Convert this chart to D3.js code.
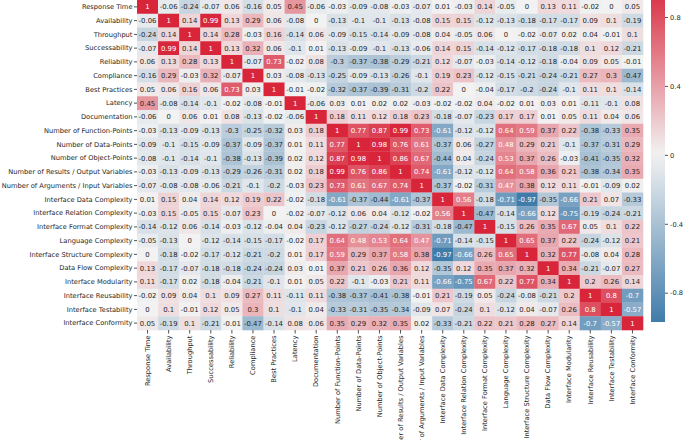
<!DOCTYPE html>
<html>
<head>
<meta charset="UTF-8">
<title>Correlation heatmap</title>
<style>
  body { margin: 0; background: #fff; }
  text { font-family: 'DejaVu Sans', sans-serif; }
</style>
</head>
<body>
<svg id="chart"></svg>
<script src="https://cdnjs.cloudflare.com/ajax/libs/d3/7.8.5/d3.min.js"></script>
<script>

// variable names (rows and columns are the same)
const variables = ["Response Time", "Availability", "Throughput", "Successability", "Reliability",
  "Compliance", "Best Practices", "Latency", "Documentation", "Number of Function-Points",
  "Number of Data-Points", "Number of Object-Points", "Number of Results / Output Variables",
  "Number of Arguments / Input Variables", "Interface Data Complexity", "Interface Relation Complexity",
  "Interface Format Complexity", "Language Complexity", "Interface Structure Complexity",
  "Data Flow Complexity", "Interface Modularity", "Interface Reusability", "Interface Testability",
  "Interface Conformity"];

// correlation values, one row per variable
const corr = [
  [1, -0.06, -0.24, -0.07, 0.06, -0.16, 0.05, 0.45, -0.06, -0.03, -0.09, -0.08, -0.03, -0.07, 0.01, -0.03, 0.14, -0.05, 0, 0.13, 0.11, -0.02, 0, 0.05],
  [-0.06, 1, 0.14, 0.99, 0.13, 0.29, 0.06, -0.08, 0, -0.13, -0.1, -0.1, -0.13, -0.08, 0.15, 0.15, -0.12, -0.13, -0.18, -0.17, -0.17, 0.09, 0.1, -0.19],
  [-0.24, 0.14, 1, 0.14, 0.28, -0.03, 0.16, -0.14, 0.06, -0.09, -0.15, -0.14, -0.09, -0.08, 0.04, -0.05, 0.06, 0, -0.02, -0.07, 0.02, 0.04, -0.01, 0.1],
  [-0.07, 0.99, 0.14, 1, 0.13, 0.32, 0.06, -0.1, 0.01, -0.13, -0.09, -0.1, -0.13, -0.06, 0.14, 0.15, -0.14, -0.12, -0.17, -0.18, -0.18, 0.1, 0.12, -0.21],
  [0.06, 0.13, 0.28, 0.13, 1, -0.07, 0.73, -0.02, 0.08, -0.3, -0.37, -0.38, -0.29, -0.21, 0.12, -0.07, -0.03, -0.14, -0.12, -0.18, -0.04, 0.09, 0.05, -0.01],
  [-0.16, 0.29, -0.03, 0.32, -0.07, 1, 0.03, -0.08, -0.13, -0.25, -0.09, -0.13, -0.26, -0.1, 0.19, 0.23, -0.12, -0.15, -0.21, -0.24, -0.21, 0.27, 0.3, -0.47],
  [0.05, 0.06, 0.16, 0.06, 0.73, 0.03, 1, -0.01, -0.02, -0.32, -0.37, -0.39, -0.31, -0.2, 0.22, 0, -0.04, -0.17, -0.2, -0.24, -0.1, 0.11, 0.1, -0.14],
  [0.45, -0.08, -0.14, -0.1, -0.02, -0.08, -0.01, 1, -0.06, 0.03, 0.01, 0.02, 0.02, -0.03, -0.02, -0.02, 0.04, -0.02, 0.01, 0.03, 0.01, -0.11, -0.1, 0.08],
  [-0.06, 0, 0.06, 0.01, 0.08, -0.13, -0.02, -0.06, 1, 0.18, 0.11, 0.12, 0.18, 0.23, -0.18, -0.07, -0.23, 0.17, 0.17, 0.01, 0.05, 0.11, 0.04, 0.06],
  [-0.03, -0.13, -0.09, -0.13, -0.3, -0.25, -0.32, 0.03, 0.18, 1, 0.77, 0.87, 0.99, 0.73, -0.61, -0.12, -0.12, 0.64, 0.59, 0.37, 0.22, -0.38, -0.33, 0.35],
  [-0.09, -0.1, -0.15, -0.09, -0.37, -0.09, -0.37, 0.01, 0.11, 0.77, 1, 0.98, 0.76, 0.61, -0.37, 0.06, -0.27, 0.48, 0.29, 0.21, -0.1, -0.37, -0.31, 0.29],
  [-0.08, -0.1, -0.14, -0.1, -0.38, -0.13, -0.39, 0.02, 0.12, 0.87, 0.98, 1, 0.86, 0.67, -0.44, 0.04, -0.24, 0.53, 0.37, 0.26, -0.03, -0.41, -0.35, 0.32],
  [-0.03, -0.13, -0.09, -0.13, -0.29, -0.26, -0.31, 0.02, 0.18, 0.99, 0.76, 0.86, 1, 0.74, -0.61, -0.12, -0.12, 0.64, 0.58, 0.36, 0.21, -0.38, -0.34, 0.35],
  [-0.07, -0.08, -0.08, -0.06, -0.21, -0.1, -0.2, -0.03, 0.23, 0.73, 0.61, 0.67, 0.74, 1, -0.37, -0.02, -0.31, 0.47, 0.38, 0.12, 0.11, -0.01, -0.09, 0.02],
  [0.01, 0.15, 0.04, 0.14, 0.12, 0.19, 0.22, -0.02, -0.18, -0.61, -0.37, -0.44, -0.61, -0.37, 1, 0.56, -0.18, -0.71, -0.97, -0.35, -0.66, 0.21, 0.07, -0.33],
  [-0.03, 0.15, -0.05, 0.15, -0.07, 0.23, 0, -0.02, -0.07, -0.12, 0.06, 0.04, -0.12, -0.02, 0.56, 1, -0.47, -0.14, -0.66, 0.12, -0.75, -0.19, -0.24, -0.21],
  [-0.14, -0.12, 0.06, -0.14, -0.03, -0.12, -0.04, 0.04, -0.23, -0.12, -0.27, -0.24, -0.12, -0.31, -0.18, -0.47, 1, -0.15, 0.26, 0.35, 0.67, 0.05, 0.1, 0.22],
  [-0.05, -0.13, 0, -0.12, -0.14, -0.15, -0.17, -0.02, 0.17, 0.64, 0.48, 0.53, 0.64, 0.47, -0.71, -0.14, -0.15, 1, 0.65, 0.37, 0.22, -0.24, -0.12, 0.21],
  [0, -0.18, -0.02, -0.17, -0.12, -0.21, -0.2, 0.01, 0.17, 0.59, 0.29, 0.37, 0.58, 0.38, -0.97, -0.66, 0.26, 0.65, 1, 0.32, 0.77, -0.08, 0.04, 0.28],
  [0.13, -0.17, -0.07, -0.18, -0.18, -0.24, -0.24, 0.03, 0.01, 0.37, 0.21, 0.26, 0.36, 0.12, -0.35, 0.12, 0.35, 0.37, 0.32, 1, 0.34, -0.21, -0.07, 0.27],
  [0.11, -0.17, 0.02, -0.18, -0.04, -0.21, -0.1, 0.01, 0.05, 0.22, -0.1, -0.03, 0.21, 0.11, -0.66, -0.75, 0.67, 0.22, 0.77, 0.34, 1, 0.2, 0.26, 0.14],
  [-0.02, 0.09, 0.04, 0.1, 0.09, 0.27, 0.11, -0.11, 0.11, -0.38, -0.37, -0.41, -0.38, -0.01, 0.21, -0.19, 0.05, -0.24, -0.08, -0.21, 0.2, 1, 0.8, -0.7],
  [0, 0.1, -0.01, 0.12, 0.05, 0.3, 0.1, -0.1, 0.04, -0.33, -0.31, -0.35, -0.34, -0.09, 0.07, -0.24, 0.1, -0.12, 0.04, -0.07, 0.26, 0.8, 1, -0.57],
  [0.05, -0.19, 0.1, -0.21, -0.01, -0.47, -0.14, 0.08, 0.06, 0.35, 0.29, 0.32, 0.35, 0.02, -0.33, -0.21, 0.22, 0.21, 0.28, 0.27, 0.14, -0.7, -0.57, 1]
];

const colorTicks = [0.8, 0.4, 0, -0.4, -0.8];

const width = 685, height = 440;
const mLeft = 137, mTop = 0, mRight = 643, mBottom = 330;

const fontSize = 6.7;

const svg = d3.select("#chart")
  .attr("width", width)
  .attr("height", height);

const x = d3.scaleBand().domain(variables).range([mLeft, mRight]);
const y = d3.scaleBand().domain(variables).range([mTop, mBottom]);

// diverging blue - light - red palette
const color = d3.scaleLinear()
  .domain([-1, 0, 1])
  .range(["#3b78a8", "#f2f2f2", "#d8253a"])
  .interpolate(d3.interpolateRgb)
  .clamp(true);

// same test seaborn uses to pick white or dark annotation text
function luminance(c) {
  const rgb = d3.rgb(c);
  const f = v => { v /= 255; return v <= 0.03928 ? v / 12.92 : Math.pow((v + 0.055) / 1.055, 2.4); };
  return 0.2126 * f(rgb.r) + 0.7152 * f(rgb.g) + 0.0722 * f(rgb.b);
}

const cells = [];
corr.forEach((row, i) => row.forEach((v, j) => cells.push({ r: variables[i], c: variables[j], v: v })));

const g = svg.append("g");

g.selectAll("rect")
  .data(cells)
  .enter()
  .append("rect")
  .attr("x", d => x(d.c))
  .attr("y", d => y(d.r))
  .attr("width", x.bandwidth() + 0.3)
  .attr("height", y.bandwidth() + 0.3)
  .attr("fill", d => color(d.v));

g.selectAll("text.annot")
  .data(cells)
  .enter()
  .append("text")
  .attr("class", "annot")
  .attr("x", d => x(d.c) + x.bandwidth() / 2)
  .attr("y", d => y(d.r) + y.bandwidth() / 2)
  .attr("dy", "0.36em")
  .attr("text-anchor", "middle")
  .style("font-size", (fontSize + 0.2) + "px")
  .style("fill", d => luminance(color(d.v)) > 0.408 ? "#262626" : "#fff")
  .text(d => String(d.v));

// axes
const yAxis = svg.append("g")
  .attr("transform", "translate(" + mLeft + ",0)")
  .call(d3.axisLeft(y).tickSize(3).tickPadding(1.5));

const xAxis = svg.append("g")
  .attr("transform", "translate(0," + mBottom + ")")
  .call(d3.axisBottom(x).tickSize(3.5));

[xAxis, yAxis].forEach(ax => {
  ax.select(".domain").remove();
  ax.selectAll("line").attr("stroke", "#262626").attr("stroke-width", 0.8);
  ax.selectAll("text").style("font-size", fontSize + "px").attr("fill", "#262626")
    .style("font-family", "'DejaVu Sans', sans-serif");
});

yAxis.selectAll("text").attr("dy", "0.34em");

xAxis.selectAll("text")
  .attr("transform", "rotate(-90)")
  .attr("text-anchor", "end")
  .attr("x", -5.5)
  .attr("y", 0)
  .attr("dy", "0.34em");

// colorbar (its top runs past the picture's edge, as in the source image)
const cbX = 651, cbW = 14;
const cbScale = d3.scaleLinear().domain([-0.97, 1]).range([322, -17.5]);
const cbTop = cbScale(1), cbBottom = cbScale(-0.97);

const defs = svg.append("defs");
const grad = defs.append("linearGradient")
  .attr("id", "cbgrad")
  .attr("x1", "0%").attr("y1", "100%")
  .attr("x2", "0%").attr("y2", "0%");
d3.range(0, 1.0001, 0.05).forEach(t => {
  grad.append("stop")
    .attr("offset", (t * 100) + "%")
    .attr("stop-color", color(-0.97 + t * 1.97));
});

svg.append("rect")
  .attr("x", cbX)
  .attr("y", cbTop)
  .attr("width", cbW)
  .attr("height", cbBottom - cbTop)
  .style("fill", "url(#cbgrad)");

const cbAxis = svg.append("g")
  .attr("transform", "translate(" + (cbX + cbW) + ",0)")
  .call(d3.axisRight(cbScale).tickValues(colorTicks).tickSize(3).tickPadding(2)
    .tickFormat(d => String(d)));

cbAxis.select(".domain").remove();
cbAxis.selectAll("line").attr("stroke", "#262626").attr("stroke-width", 0.8);
cbAxis.selectAll("text").style("font-size", fontSize + "px").attr("fill", "#262626")
  .style("font-family", "'DejaVu Sans', sans-serif")
  .attr("dy", "0.34em");

</script>
</body>
</html>
